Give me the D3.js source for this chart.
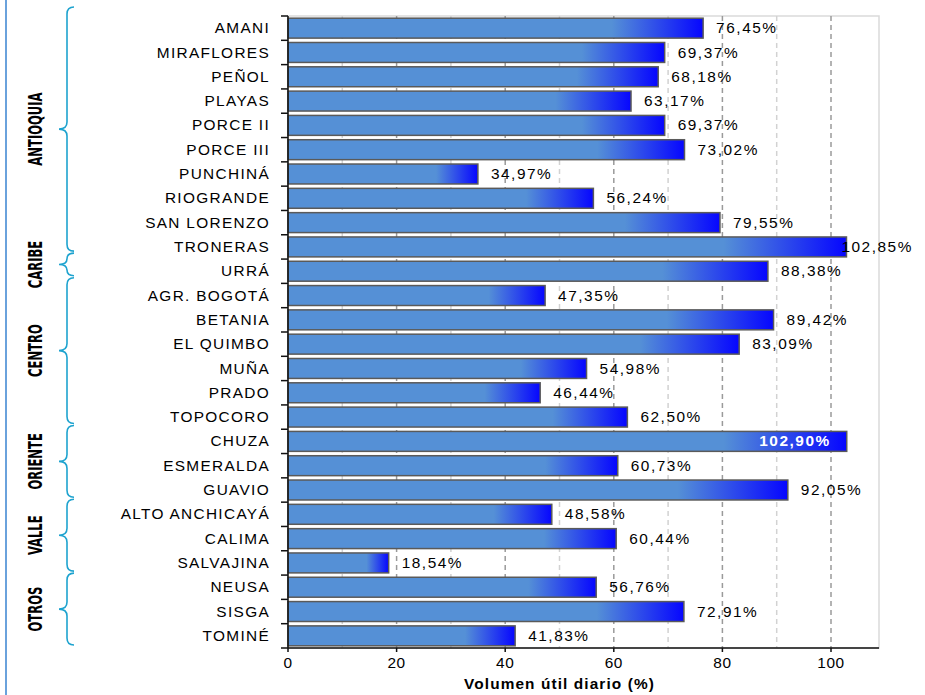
<!DOCTYPE html>
<html>
<head>
<meta charset="utf-8">
<script src="https://cdn.jsdelivr.net/npm/d3@7"></script>
<style>
  html, body { margin: 0; padding: 0; background: #fff; }
  svg { display: block; }
</style>
</head>
<body>
<svg id="chart" width="925" height="695"></svg>
<script>
// ---- data ----
const categories = ["AMANI","MIRAFLORES","PEÑOL","PLAYAS","PORCE II","PORCE III","PUNCHINÁ","RIOGRANDE","SAN LORENZO","TRONERAS","URRÁ","AGR. BOGOTÁ","BETANIA","EL QUIMBO","MUÑA","PRADO","TOPOCORO","CHUZA","ESMERALDA","GUAVIO","ALTO ANCHICAYÁ","CALIMA","SALVAJINA","NEUSA","SISGA","TOMINÉ"];
const values = [76.45,69.37,68.18,63.17,69.37,73.02,34.97,56.24,79.55,102.85,88.38,47.35,89.42,83.09,54.98,46.44,62.50,102.90,60.73,92.05,48.58,60.44,18.54,56.76,72.91,41.83];
const groupNames = ["ANTIOQUIA","CARIBE","CENTRO","ORIENTE","VALLE","OTROS"];
const groupCounts = [10,1,6,3,3,3];
const xTicks = [0,20,40,60,80,100];
const gridValues = [10,20,30,40,50,60,70,80,90,100];
const insideLabels = ["CHUZA"];
const axisTitle = "Volumen útil diario (%)";

// ---- layout ----
const svg = d3.select("#chart");
const L = 288, R = 879, T = 16, B = 648;
const x = d3.scaleLinear().domain([0, 100]).range([L, 831]);
const y = d3.scaleBand().domain(categories).range([T, B]).paddingInner(0.18).paddingOuter(0.09);
const fmt = v => d3.format(".2f")(v).replace(".", ",") + "%";
const textColor = "#000";
const font = "'Liberation Sans', Arial, sans-serif";
const hs = 1.1; // horizontal stretch of text

// left decorative border
svg.append("line").attr("x1", 6).attr("x2", 6).attr("y1", 0).attr("y2", 695)
  .attr("stroke", "#6aa2dc").attr("stroke-width", 2);

// gradient
const defs = svg.append("defs");
const grad = defs.append("linearGradient").attr("id", "barGrad")
  .attr("x1", "0").attr("x2", "1").attr("y1", "0").attr("y2", "0");
grad.append("stop").attr("offset", "0").attr("stop-color", "#5590d6");
grad.append("stop").attr("offset", "0.78").attr("stop-color", "#5590d6");
grad.append("stop").attr("offset", "1").attr("stop-color", "#0606ff");

// plot frame
svg.append("rect").attr("x", L).attr("y", T).attr("width", R - L).attr("height", B - T)
  .attr("fill", "none").attr("stroke", "#dadada").attr("stroke-width", 1.5);

// gridlines
svg.append("g").selectAll("line").data(gridValues).join("line")
  .attr("x1", d => x(d)).attr("x2", d => x(d)).attr("y1", T).attr("y2", B)
  .attr("stroke", d => d % 20 === 0 ? "#9a9a9a" : "#d2d2d2")
  .attr("stroke-width", 1.5)
  .attr("stroke-dasharray", "5,4");

// bars
svg.append("g").selectAll("rect").data(categories).join("rect")
  .attr("x", x(0))
  .attr("y", d => y(d))
  .attr("width", (d, i) => x(values[i]) - x(0))
  .attr("height", y.bandwidth())
  .attr("fill", "url(#barGrad)")
  .attr("stroke", "#5a5a5a").attr("stroke-width", 1.5);

// value labels
svg.append("g").selectAll("text").data(categories).join("text")
  .each(function(d, i) {
    const t = d3.select(this);
    const v = values[i];
    const cy = y(d) + y.bandwidth() / 2;
    t.attr("x", 0).attr("y", 0).attr("dy", "0.36em")
      .attr("font-family", font).attr("font-size", 14)
      .attr("letter-spacing", "1.4px")
      .text(fmt(v));
    if (insideLabels.includes(d)) {
      t.attr("transform", `translate(${x(v) - 16},${cy}) scale(${hs},1)`)
        .attr("text-anchor", "end")
        .attr("fill", "#ffffff").attr("font-weight", "bold");
    } else {
      t.attr("text-anchor", "start").attr("fill", textColor);
      let lx = x(v) + 13;
      const w = this.getComputedTextLength() * hs;
      if (lx + w > 913) lx = 913 - w;
      t.attr("transform", `translate(${lx},${cy}) scale(${hs},1)`);
    }
  });

// y axis line + ticks (at category boundaries)
svg.append("line").attr("x1", L).attr("x2", L).attr("y1", T).attr("y2", B)
  .attr("stroke", "#111").attr("stroke-width", 1.5);
const bounds = d3.range(categories.length + 1).map(i => T + i * y.step());
svg.append("g").selectAll("line").data(bounds).join("line")
  .attr("x1", L - 7).attr("x2", L).attr("y1", d => d).attr("y2", d => d)
  .attr("stroke", "#111").attr("stroke-width", 1.5);

// category labels
svg.append("g").selectAll("text").data(categories).join("text")
  .attr("transform", d => `translate(270,${y(d) + y.bandwidth() / 2}) scale(${hs},1)`)
  .attr("dy", "0.36em")
  .attr("text-anchor", "end")
  .attr("font-family", font).attr("font-size", 14)
  .attr("letter-spacing", "1.2px")
  .attr("fill", textColor)
  .text(d => d);

// x axis
const xAxis = svg.append("g").attr("transform", `translate(0,${B})`);
xAxis.append("line").attr("x1", L).attr("x2", R).attr("y1", 0).attr("y2", 0)
  .attr("stroke", "#111").attr("stroke-width", 1.5);
xAxis.selectAll("line.tick").data(xTicks).join("line").attr("class", "tick")
  .attr("x1", d => x(d)).attr("x2", d => x(d)).attr("y1", 0).attr("y2", 4)
  .attr("stroke", "#111").attr("stroke-width", 1.5);
xAxis.selectAll("text").data(xTicks).join("text")
  .attr("transform", d => `translate(${x(d)},20) scale(${hs},1)`)
  .attr("text-anchor", "middle")
  .attr("font-family", font).attr("font-size", 14)
  .attr("letter-spacing", "0.5px")
  .attr("fill", textColor)
  .text(d => d);

svg.append("text")
  .attr("transform", `translate(${(L + 831) / 2},689) scale(${hs},1)`)
  .attr("text-anchor", "middle")
  .attr("font-family", font).attr("font-size", 14).attr("font-weight", "bold")
  .attr("letter-spacing", "1px")
  .attr("fill", textColor)
  .text(axisTitle);

// group braces + labels
const braceY = d3.scaleLinear().domain([T, B]).range([6, 646]);
let start = 0;
const braceColor = "#1ea3cf";
groupNames.forEach((g, gi) => {
  const n = groupCounts[gi];
  const y0 = braceY(T + start * y.step()) + 1;
  const y1 = braceY(T + (start + n) * y.step()) - 1;
  const ym = (y0 + y1) / 2;
  const xv = 67, xt = 59, xe = 74, r = Math.min(7, (y1 - y0) / 4);
  const p = `M${xe},${y0} Q${xv},${y0} ${xv},${y0 + r} L${xv},${ym - r} Q${xv},${ym} ${xt},${ym} Q${xv},${ym} ${xv},${ym + r} L${xv},${y1 - r} Q${xv},${y1} ${xe},${y1}`;
  svg.append("path").attr("d", p).attr("fill", "none")
    .attr("stroke", braceColor).attr("stroke-width", 1.6);
  svg.append("text")
    .attr("transform", `translate(35,${ym}) rotate(-90) scale(0.66,1)`)
    .attr("text-anchor", "middle").attr("dy", "0.36em")
    .attr("font-family", "'Liberation Sans Narrow', 'DejaVu Sans Condensed', 'Arial Narrow', sans-serif")
    .attr("font-weight", "bold").attr("font-size", 19.5)
    .attr("fill", "#000")
    .text(g);
  start += n;
});
</script>
</body>
</html>
